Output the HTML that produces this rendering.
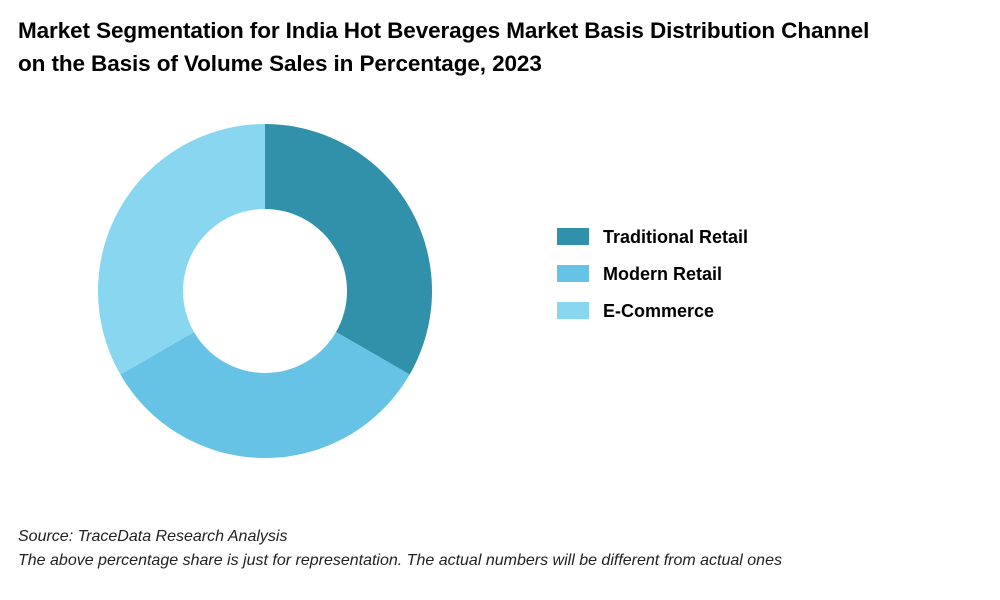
<!DOCTYPE html>
<html><head><meta charset="utf-8"><style>
body{margin:0;width:1000px;height:600px;background:#fff;font-family:"Liberation Sans",sans-serif;overflow:hidden;position:relative}
.title{position:absolute;left:18px;top:14px;font-size:22.5px;font-weight:bold;line-height:33px;color:#000;letter-spacing:-0.1px}
.foot{position:absolute;left:18px;font-style:italic;font-size:16px;color:#222}
</style></head><body>
<div class="title">Market Segmentation for India Hot Beverages Market Basis Distribution Channel<br>on the Basis of Volume Sales in Percentage, 2023</div>
<svg id="chart" width="1000" height="600" style="position:absolute;left:0;top:0"></svg>
<div class="foot" style="top:528px">Source: TraceData Research Analysis</div>
<div class="foot" style="top:552px">The above percentage share is just for representation. The actual numbers will be different from actual ones</div>
<script>
const categories=["Traditional Retail","Modern Retail","E-Commerce"];
const values=[33.33,33.33,33.34];
const colors=["#3190aa","#66c3e5","#88d6f0"];
const svg=document.getElementById('chart');
const NS="http://www.w3.org/2000/svg";
const cx=265,cy=291,R=167,r=82;
const total=values.reduce((a,b)=>a+b,0);
function pt(a,rad){return [cx+rad*Math.sin(a),cy-rad*Math.cos(a)];}
let a0=0;
values.forEach((v,i)=>{
  const a1=a0+v/total*2*Math.PI;
  const large=(a1-a0)>Math.PI?1:0;
  const [x0,y0]=pt(a0,R),[x1,y1]=pt(a1,R),[x2,y2]=pt(a1,r),[x3,y3]=pt(a0,r);
  const p=document.createElementNS(NS,'path');
  p.setAttribute('d',`M${x0},${y0} A${R},${R} 0 ${large} 1 ${x1},${y1} L${x2},${y2} A${r},${r} 0 ${large} 0 ${x3},${y3} Z`);
  p.setAttribute('fill',colors[i]);
  
  
  svg.appendChild(p);
  a0=a1;
});
categories.forEach((c,i)=>{
  const y=228+i*37;
  const rect=document.createElementNS(NS,'rect');
  rect.setAttribute('x',557);rect.setAttribute('y',y);rect.setAttribute('width',32);rect.setAttribute('height',17);
  rect.setAttribute('fill',colors[i]);
  
  
  svg.appendChild(rect);
  const t=document.createElementNS(NS,'text');
  t.setAttribute('x',603);t.setAttribute('y',y+15);
  t.setAttribute('font-size','18');t.setAttribute('font-weight','bold');
  t.setAttribute('font-family','Liberation Sans, sans-serif');
  t.textContent=c;
  
  
  svg.appendChild(t);
});
</script>
</body></html>
